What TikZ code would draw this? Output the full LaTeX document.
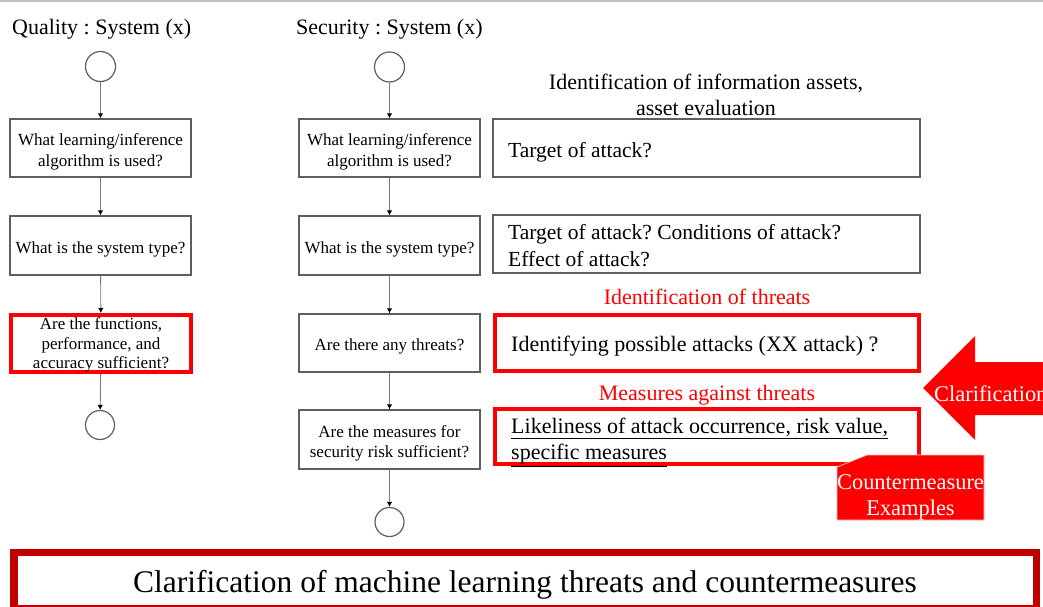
\documentclass[tikz,border=0pt]{standalone}
\usepackage{fontspec}
\setmainfont{Liberation Serif}
\usetikzlibrary{arrows.meta}
\frenchspacing
\definecolor{boxgray}{HTML}{5E5E5E}
\definecolor{linegray}{HTML}{7A7A7A}
\definecolor{hotred}{HTML}{FF0000}
\definecolor{darkred}{HTML}{C00000}
\tikzset{
  startend/.style={circle, draw=boxgray, line width=1.2pt, minimum size=29pt, inner sep=0pt},
  qbox/.style={rectangle, draw=boxgray, line width=1.3pt, minimum width=181pt, minimum height=58pt, inner sep=0pt},
  redq/.style={rectangle, draw=hotred, line width=4pt, minimum width=180pt, minimum height=57pt, inner sep=0pt},
  infobox/.style={rectangle, draw=boxgray, line width=1.3pt, minimum width=427pt, minimum height=58pt, inner sep=0pt},
  redinfo/.style={rectangle, draw=hotred, line width=4pt, minimum width=424pt, minimum height=56pt, inner sep=0pt},
  qtext/.style={inner sep=0pt, align=center, font=\fontsize{17}{20.5}\selectfont},
  infotext/.style={anchor=west, inner sep=0pt, align=left, font=\fontsize{21.5}{27}\selectfont},
  heading/.style={font=\fontsize{22}{26}\selectfont, inner sep=0pt, align=center},
  redlabel/.style={font=\fontsize{22}{24}\selectfont, text=hotred, inner sep=0pt},
  whitelabel/.style={font=\fontsize{22.4}{26}\selectfont, text=white, inner sep=0pt, align=center},
  flow/.style={draw=linegray, line width=0.9pt, -{Latex[length=5pt,width=5.5pt,color=black]}},
}
\begin{document}
\begin{tikzpicture}[x=1pt,y=-1pt]
\clip (0,0) rectangle (1043,607);
\fill[white] (0,0) rectangle (1043,607);
% thin rule along the top edge
\draw[black!25, line width=1.5pt] (0,0.8) -- (1043,0.8);

% ---- quality flow ----
\node[heading, anchor=west] (qtitle) at (12,29) {Quality : System (x)};
\node[startend, minimum size=30pt] (qstart) at (100.5,66.5) {};
\node[qbox] (qalg) at (100.5,148) {};
\node[qtext] (qalgtxt) at (100.5,152) {What learning/inference\\algorithm is used?};
\node[qbox, minimum height=59pt] (qtype) at (100.5,245.5) {};
\node[qtext] (qtypetxt) at (100.5,249.5) {What is the system type?};
\node[redq] (qperf) at (101,343.5) {};
\node[qtext, font=\fontsize{17}{19.5}\selectfont] (qperftxt) at (101,345) {Are the functions,\\performance, and\\accuracy sufficient?};
\node[startend] (qend) at (100,425) {};
\draw[flow] (qstart) -- (qalg);
\draw[flow] (qalg) -- (qtype);
\draw[flow] (qtype) -- (qperf);
\draw[flow] (qperf) -- (qend);

% ---- security flow ----
\node[heading, anchor=west] (stitle) at (296,29) {Security : System (x)};
\node[startend, minimum size=30pt] (sstart) at (389.5,67) {};
\node[qbox] (salg) at (389.5,148) {};
\node[qtext] (salgtxt) at (389.5,152) {What learning/inference\\algorithm is used?};
\node[qbox, minimum height=59pt] (stype) at (389.5,245.5) {};
\node[qtext] (stypetxt) at (389.5,249.5) {What is the system type?};
\node[qbox] (sthreat) at (389.5,343) {};
\node[qtext] (sthreattxt) at (389.5,346) {Are there any threats?};
\node[qbox, minimum height=59pt] (smeas) at (389.5,439.5) {};
\node[qtext, font=\fontsize{17}{20}\selectfont] (smeastxt) at (389.5,443.5) {Are the measures for\\security risk sufficient?};
\node[startend] (send) at (389.5,522) {};
\draw[flow] (sstart) -- (salg);
\draw[flow] (salg) -- (stype);
\draw[flow] (stype) -- (sthreat);
\draw[flow] (sthreat) -- (smeas);
\draw[flow] (smeas) -- (send);

% ---- explanations ----
\node[heading] (assets) at (706,95) {Identification of information assets,\\asset evaluation};
\node[infobox] (target) at (706.5,148) {};
\node[infotext] (targettxt) at (508,152) {Target of attack?};
\node[infobox] (cond) at (706.5,244) {};
\node[infotext] (condtxt) at (508,246) {Target of attack? Conditions of attack?\\Effect of attack?};
\node[redlabel] (idthreat) at (707,297) {Identification of threats};
\node[redinfo] (attacks) at (707,343) {};
\node[infotext, font=\fontsize{22}{26}\selectfont] (attackstxt) at (511,346) {Identifying possible attacks (XX attack) ?};
\node[redlabel] (measthreat) at (707,395) {Measures against threats};
\node[redinfo, minimum height=55pt] (likely) at (707,436.5) {};
\node[infotext, font=\fontsize{22}{26}\selectfont] (likelytxt) at (511,442.5)
  {\underline{Likeliness of attack occurrence, risk value,}\\\underline{specific measures}};

% ---- clarification arrow ----
\fill[hotred] (923,388) -- (975,336) -- (975,362) -- (1050,362) -- (1050,415)
  -- (975,415) -- (975,440) -- cycle;
\node[whitelabel, anchor=west] (clarif) at (934,394) {Clarification};

% ---- countermeasure tag ----
\filldraw[fill=hotred, draw=red!25, line width=0.8pt]
  (837,467) -- (867,455) -- (984,455) -- (984,520) -- (837,520) -- cycle;
\node[whitelabel] (cmex) at (910.5,497) {Countermeasure\\Examples};

% ---- summary banner ----
\node[rectangle, draw=darkred, line width=7.5pt, minimum width=1022.5pt, minimum height=56pt,
  inner sep=0pt] (banner) at (525,580.6) {};
\node[inner sep=0pt, font=\fontsize{31.5}{36}\selectfont] (bannertxt) at (525,584.6)
  {Clarification of machine learning threats and countermeasures};
\end{tikzpicture}
\end{document}
